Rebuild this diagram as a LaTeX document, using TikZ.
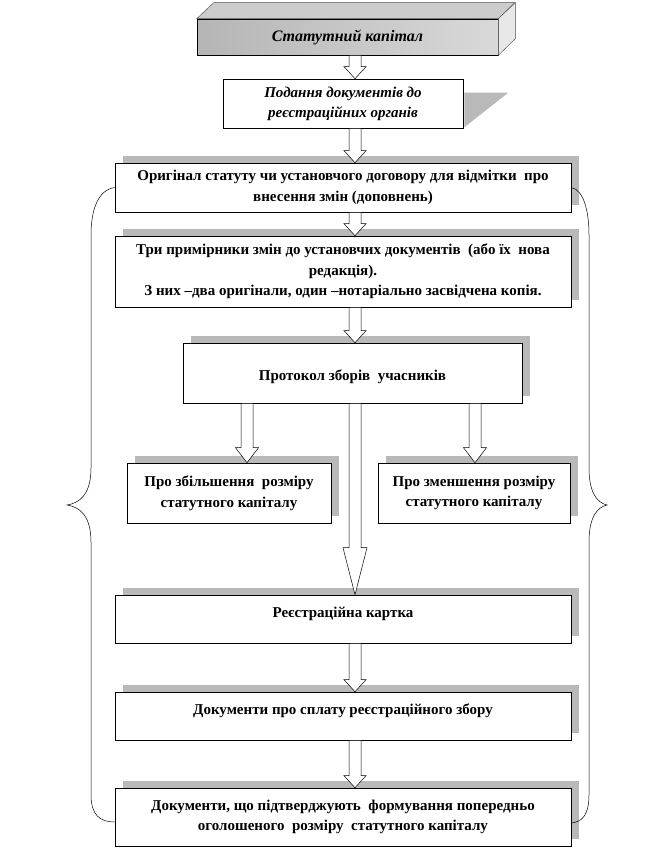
\documentclass[tikz,border=0pt]{standalone}
\usepackage{fontspec}
\setmainfont{Liberation Serif}
\usetikzlibrary{calc,shadows}
\begin{document}
\begin{tikzpicture}[x=1pt,y=-1pt,
  box/.style={draw=black, line width=0.6pt, fill=white, inner sep=2pt, align=center,
    font=\bfseries\fontsize{15}{20.5}\selectfont},
  shbox/.style={box, drop shadow={shadow xshift=8pt, shadow yshift=7pt, opacity=1, fill=gray!55}},
  blk/.style 2 args={draw=black, line width=0.5pt, fill=white,
    to path={let \p1=(\tikztostart), \p2=(\tikztotarget) in
      (\x1-6pt,\y1) -- (\x1+6pt,\y1) -- (\x1+6pt,\y2+#1) -- (\x1+#2,\y2+#1) -- (\x2,\y2)
      -- (\x1-#2,\y2+#1) -- (\x1-6pt,\y2+#1) -- cycle}},
  brace/.style={draw=black, line width=0.5pt}
]
\useasboundingbox (0,0) rectangle (662,851);

% 3D top box
\node[box, minimum width=301pt, minimum height=36pt, left color=gray!58, right color=gray!30,
  font=\bfseries\itshape\fontsize{16}{18}\selectfont] (b1) at (347.5,37) {Статутний капітал};
\filldraw[fill=gray!40, draw=black!70, line width=0.4pt] (b1.north west) -- ++(17,-16) -- ++(301,0) -- (b1.north east) -- cycle;
\filldraw[fill=gray!18, draw=black!70, line width=0.4pt] (b1.north east) -- ++(17,-16) -- ++(0,36) -- (b1.south east) -- cycle;

% second box with slanted shadow
\node[box, minimum width=240pt, minimum height=49pt,
  font=\bfseries\itshape\fontsize{15}{20}\selectfont] (b2) at (343,103.5) {Подання документів до\\реєстраційних органів};
\fill[gray!55] ($(b2.north east)+(1,14)$) -- ++(44,0) -- ($(b2.south east)+(1,-1)$) -- cycle;

\node[shbox, minimum width=456pt, minimum height=49pt] (b3) at (343,187.5)
  {Оригінал статуту чи установчого договору для відмітки \ про\\внесення змін (доповнень)};
\node[shbox, minimum width=456pt, minimum height=71pt] (b4) at (343,271.5)
  {Три примірники змін до установчих документів \ (або їх \ нова\\редакція).\\З них –два оригінали, один –нотаріально засвідчена копія.};
\node[shbox, minimum width=339pt, minimum height=60pt, text height=18pt] (b5) at (352.5,373)
  {Протокол зборів \ учасників};
\node[shbox, minimum width=204pt, minimum height=60pt] (b6) at (229,493)
  {Про збільшення \ розміру\\статутного капіталу};
\node[shbox, minimum width=192pt, minimum height=60pt] (b7) at (474,493)
  {Про зменшення розміру\\статутного капіталу};
\node[shbox, minimum width=456pt, minimum height=48pt, text height=10pt, text depth=14pt] (b8) at (343,619)
  {Реєстраційна картка};
\node[shbox, minimum width=456pt, minimum height=48pt, text height=10pt, text depth=14pt] (b9) at (343,716)
  {Документи про сплату реєстраційного збору};
\node[shbox, minimum width=456pt, minimum height=58pt] (b10) at (343,817)
  {Документи, що підтверджують \ формування попередньо\\оголошеного \ розміру \ статутного капіталу};

% block arrows
\coordinate (ax) at (355,0);
\coordinate (a6) at ($(b6.north)+(18,0)$);
\coordinate (a7) at ($(b7.north)+(1,0)$);
\draw[blk={12pt}{11pt}] (ax |- b1.south) to (ax |- b2.north);
\draw[blk={12pt}{11pt}] (ax |- b2.south) to (ax |- b3.north);
\draw[blk={12pt}{11pt}] (ax |- b3.south) to (ax |- b4.north);
\draw[blk={12pt}{11pt}] (ax |- b4.south) to (ax |- b5.north);
\draw[blk={15pt}{11.5pt}] (a6 |- b5.south) to (a6);
\draw[blk={15pt}{11.5pt}] (a7 |- b5.south) to (a7);
\draw[blk={47pt}{12pt}] (ax |- b5.south) to (ax |- b8.north);
\draw[blk={12pt}{11pt}] (ax |- b8.south) to (ax |- b9.north);
\draw[blk={12pt}{11pt}] (ax |- b9.south) to (ax |- b10.north);

% braces
\draw[brace] (b3.west) .. controls (97,190) and (91,212) .. (91,235) -- (91,468)
  .. controls (91,494) and (80,503) .. (67,505)
  .. controls (80,507) and (91,516) .. (91,542) -- (91,795)
  .. controls (91,815) and (100,822) .. ($(b10.west)+(0,5)$);
\draw[brace] (b3.east) .. controls (584,190) and (589,212) .. (589,235) -- (589,468)
  .. controls (589,494) and (598,503) .. (607,505)
  .. controls (598,507) and (589,516) .. (589,542) -- (589,795)
  .. controls (589,815) and (582,822) .. ($(b10.east)+(0,6)$);
\end{tikzpicture}
\end{document}
